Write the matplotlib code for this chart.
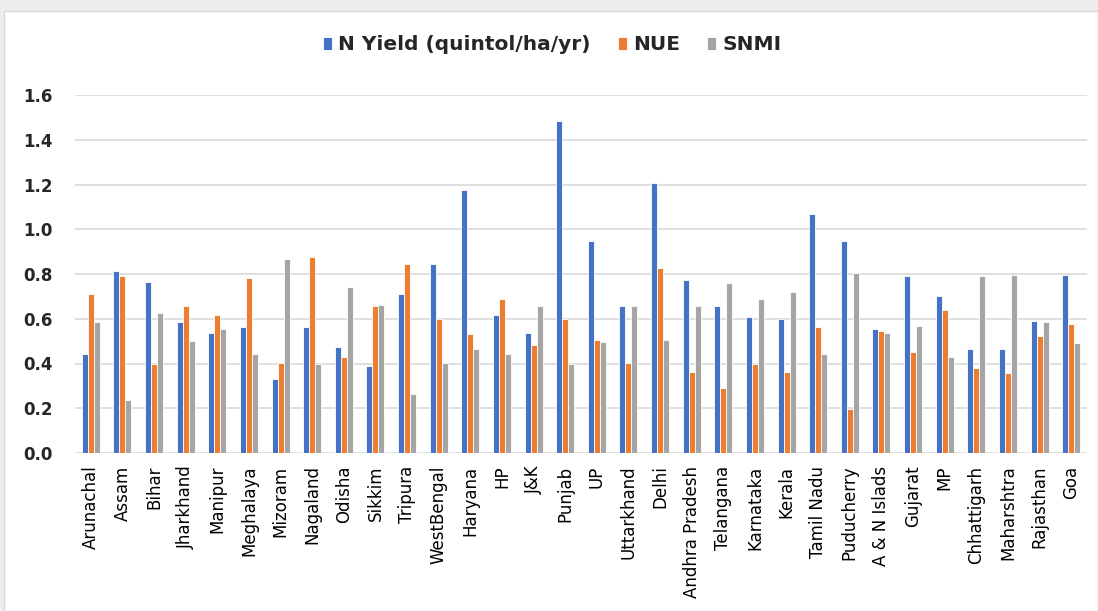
import matplotlib
matplotlib.use("Agg")
import matplotlib.pyplot as plt
import numpy as np
from matplotlib.patches import Rectangle

states = ["Arunachal", "Assam", "Bihar", "Jharkhand", "Manipur", "Meghalaya", "Mizoram",
          "Nagaland", "Odisha", "Sikkim", "Tripura", "WestBengal", "Haryana", "HP", "J&K",
          "Punjab", "UP", "Uttarkhand", "Delhi", "Andhra Pradesh", "Telangana", "Karnataka",
          "Kerala", "Tamil Nadu", "Puducherry", "A & N Islads", "Gujarat", "MP",
          "Chhattigarh", "Maharshtra", "Rajasthan", "Goa"]

n_yield = [0.444, 0.813, 0.766, 0.585, 0.537, 0.561, 0.332, 0.561, 0.475, 0.388, 0.710,
           0.845, 1.176, 0.616, 0.536, 1.482, 0.947, 0.655, 1.206, 0.774, 0.655, 0.607,
           0.600, 1.066, 0.947, 0.554, 0.789, 0.702, 0.466, 0.466, 0.592, 0.796]
nue = [0.710, 0.790, 0.397, 0.655, 0.616, 0.781, 0.403, 0.877, 0.427, 0.655, 0.845,
       0.600, 0.530, 0.688, 0.482, 0.600, 0.506, 0.403, 0.829, 0.363, 0.292, 0.397,
       0.363, 0.561, 0.198, 0.545, 0.451, 0.640, 0.380, 0.356, 0.522, 0.576]
snmi = [0.585, 0.237, 0.625, 0.499, 0.554, 0.442, 0.869, 0.397, 0.743, 0.662, 0.262,
        0.403, 0.466, 0.442, 0.655, 0.397, 0.497, 0.655, 0.506, 0.655, 0.759, 0.688,
        0.719, 0.442, 0.804, 0.536, 0.569, 0.427, 0.789, 0.796, 0.585, 0.490]

series_names = ["N Yield (quintol/ha/yr)", "NUE", "SNMI"]
colors = ["#4472C4", "#ED7D31", "#A5A5A5"]
yticks = [0.0, 0.2, 0.4, 0.6, 0.8, 1.0, 1.2, 1.4, 1.6]

W, H = 1098, 611
fig = plt.figure(figsize=(W / 100, H / 100), dpi=100, facecolor="#eeeeee")
bg = Rectangle((4 / W, 0), 1 - 4 / W, 1 - 11 / H, transform=fig.transFigure,
               facecolor="white", edgecolor="#d9d9d9", linewidth=1, zorder=-10)
fig.patches.append(bg)

ax = fig.add_axes([75 / W, 1 - 453 / H, (1087 - 75) / W, (453 - 95) / H])
ax.set_zorder(5)
ax.set_facecolor("none")

x = np.arange(len(states))
bw = 0.19
for i, (vals, name, c) in enumerate(zip([n_yield, nue, snmi], series_names, colors)):
    ax.bar(x + (i - 1) * bw, vals, width=bw, color=c, edgecolor="white", linewidth=0.6,
           label=name, zorder=3)

ax.set_xlim(-0.5, len(states) - 0.5)
ax.set_ylim(0, 1.6)
ax.set_yticks(yticks)
ax.set_yticklabels([f"{v:.1f}" for v in yticks], fontsize=12, fontweight="bold", color="#262626")
ax.set_xticks(x)
ax.set_xticklabels(states, rotation=90, fontsize=12, color="#000000")
ax.tick_params(axis="both", length=0)
ax.tick_params(axis="x", pad=9)
ax.tick_params(axis="y", pad=16)
ax.grid(axis="y", color="#d9d9d9", linewidth=1.2, zorder=0)
for s in ax.spines.values():
    s.set_visible(False)

leg = fig.legend(loc="center", bbox_to_anchor=(0.503, 1 - 45 / H), ncol=3, frameon=False,
                 prop={"size": 14.5, "weight": "bold"}, handlelength=0.45, handleheight=0.62,
                 columnspacing=1.35, handletextpad=0.3)
for t in leg.get_texts():
    t.set_color("#262626")
leg.set_zorder(6)

fig.savefig("out.png", dpi=100, facecolor=fig.get_facecolor())
